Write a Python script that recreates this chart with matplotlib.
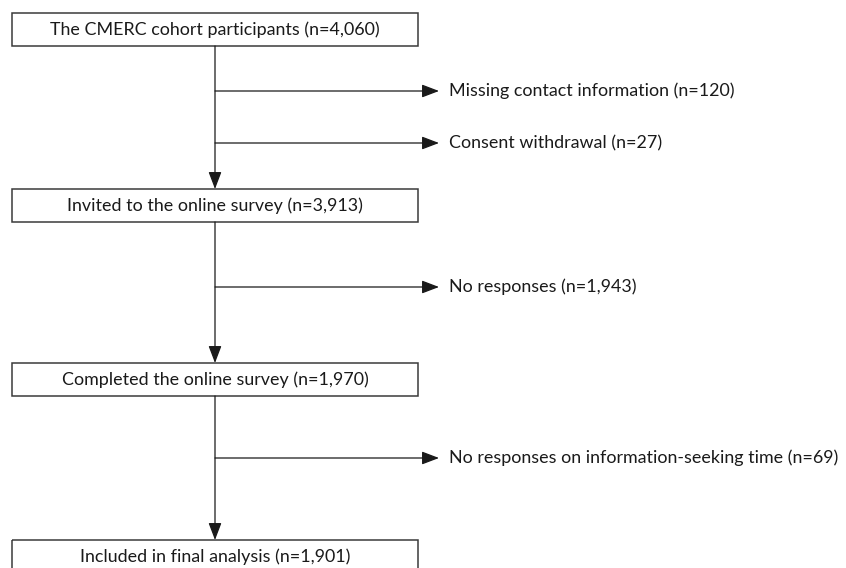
"""Flow chart of study participants"""

import matplotlib.pyplot as plt
from matplotlib.patches import Rectangle, FancyArrowPatch

# text content
box_labels = [
    "The CMERC cohort participants (n=4,060)",
    "Invited to the online survey (n=3,913)",
    "Completed the online survey (n=1,970)",
    "Included in final analysis (n=1,901)",
]
exclusion_labels = [
    "Missing contact information (n=120)",
    "Consent withdrawal (n=27)",
    "No responses (n=1,943)",
    "No responses on information-seeking time (n=69)",
]

# layout (pixels, y downward)
box_tops = [13, 189, 363, 540]
box_height = 33
box_left, box_right = 12, 418
stem_x = 215
branch_y = [91, 143, 287, 458]
arrow_tip_x = 439
text_x = 449

LINE = "#3a3a3a"
FONT = ["Lato", "DejaVu Sans"]
FS = 12.9


def _arrow(ax, start, end):
    ax.add_patch(FancyArrowPatch(
        start, end,
        arrowstyle="-|>,head_length=10.5,head_width=4",
        mutation_scale=1, color="#1a1a1a", lw=0.9,
        shrinkA=0, shrinkB=0,
    ))


def main():
    fig = plt.figure(figsize=(8.46, 5.68), dpi=100)
    ax = fig.add_axes([0, 0, 1, 1])
    ax.set_xlim(0, 846)
    ax.set_ylim(568, 0)
    ax.axis("off")

    for top, label in zip(box_tops, box_labels):
        ax.add_patch(Rectangle((box_left, top), box_right - box_left, box_height,
                               fill=False, edgecolor=LINE, lw=1.1))
        ax.text(stem_x, top + box_height / 2, label, ha="center", va="center",
                fontsize=FS, family=FONT, color="#1a1a1a")

    # vertical connectors between boxes
    for top_a, top_b in zip(box_tops[:-1], box_tops[1:]):
        _arrow(ax, (stem_x, top_a + box_height), (stem_x, top_b))

    # exclusion branches
    for y, label in zip(branch_y, exclusion_labels):
        _arrow(ax, (stem_x, y), (arrow_tip_x, y))
        ax.text(text_x, y, label, ha="left", va="center",
                fontsize=FS, family=FONT, color="#1a1a1a")

    fig.savefig("out.png", dpi=100)


if __name__ == "__main__":
    main()
